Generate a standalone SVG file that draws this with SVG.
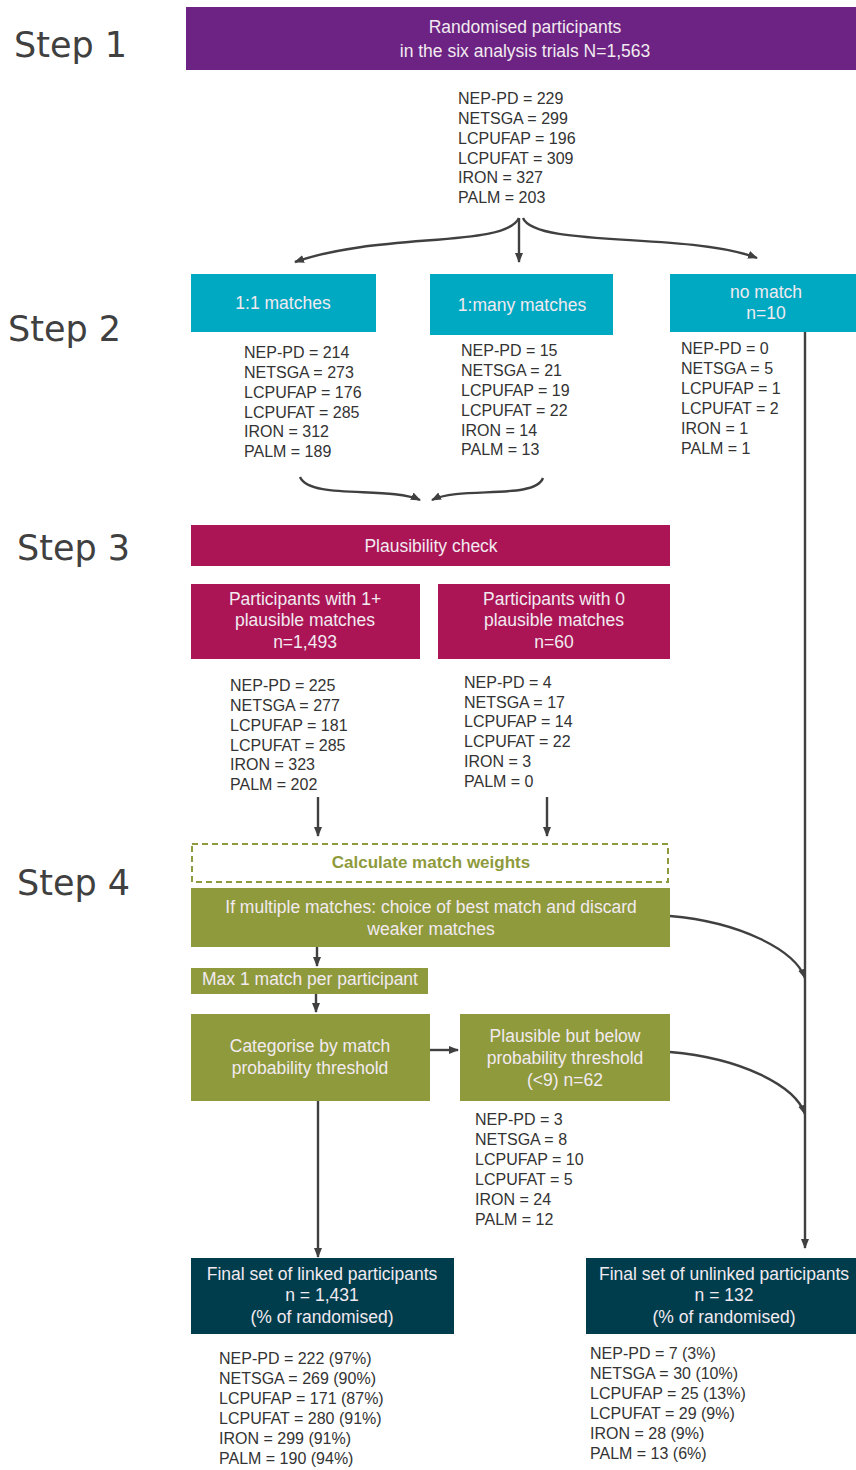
<svg xmlns="http://www.w3.org/2000/svg" width="856" height="1470" viewBox="0 0 856 1470">
<style>
.step{font-family:"DejaVu Sans","Liberation Sans",sans-serif;font-size:35px;fill:#404040}
.bt{font-family:"Liberation Sans",Arial,sans-serif;font-size:17.5px;fill:#f2eaf0;text-anchor:middle}
.ls{font-family:"Liberation Sans",Arial,sans-serif;font-size:16px;fill:#333}
.cn{fill:none;stroke:#404040;stroke-width:2.4}
</style>
<defs>
<marker id="ah" viewBox="0 0 10 10" refX="9" refY="5" markerWidth="10" markerHeight="10" orient="auto" markerUnits="userSpaceOnUse">
<path d="M0,1 L10,5 L0,9 z" fill="#404040"/>
</marker>
</defs>
<rect width="856" height="1470" fill="#fff"/>
<g id="steps">
<text class="step" x="14" y="57">Step 1</text>
<text class="step" x="8" y="341">Step 2</text>
<text class="step" x="17" y="560">Step 3</text>
<text class="step" x="17" y="895">Step 4</text>
</g>
<g id="connectors">
<path class="cn" d="M519,218 C505,248 380,232 295,262" marker-end="url(#ah)"/>
<path class="cn" d="M519,218 L519,262" marker-end="url(#ah)"/>
<path class="cn" d="M523,218 C535,248 690,232 757,258" marker-end="url(#ah)"/>
<path class="cn" d="M300,477 C310,500 390,486 420,500" marker-end="url(#ah)"/>
<path class="cn" d="M543,478 C535,500 460,486 432,500" marker-end="url(#ah)"/>
<path class="cn" d="M318,797 L318,836" marker-end="url(#ah)"/>
<path class="cn" d="M547,797 L547,836" marker-end="url(#ah)"/>
<path class="cn" d="M317,947 L317,966" marker-end="url(#ah)"/>
<path class="cn" d="M316,994 L316,1012" marker-end="url(#ah)"/>
<path class="cn" d="M430,1050 L458,1050" marker-end="url(#ah)"/>
<path class="cn" d="M318,1101 L318,1257" marker-end="url(#ah)"/>
<path class="cn" d="M805,332 L805,1248" marker-end="url(#ah)"/>
<path class="cn" d="M670,916 C740,922 795,950 805,978" marker-end="url(#ah)"/>
<path class="cn" d="M670,1052 C740,1058 795,1085 805,1114" marker-end="url(#ah)"/>
</g>
<g id="n-random">
<rect x="186" y="7" width="670" height="63" fill="#6C2383"/>
<text class="bt" x="525" y="33">Randomised participants</text>
<text class="bt" x="525" y="57">in the six analysis trials N=1,563</text>
</g>
<g id="l-random">
<text class="ls" x="458" y="104">NEP-PD = 229</text>
<text class="ls" x="458" y="124">NETSGA = 299</text>
<text class="ls" x="458" y="144">LCPUFAP = 196</text>
<text class="ls" x="458" y="164">LCPUFAT = 309</text>
<text class="ls" x="458" y="183">IRON = 327</text>
<text class="ls" x="458" y="203">PALM = 203</text>
</g>
<g id="n-11">
<rect x="191" y="274" width="185" height="58" fill="#00A9C2"/>
<text class="bt" x="283" y="309">1:1 matches</text>
</g>
<g id="n-1many">
<rect x="430" y="274" width="183" height="61" fill="#00A9C2"/>
<text class="bt" x="522" y="311">1:many matches</text>
</g>
<g id="n-nomatch">
<rect x="670" y="274" width="186" height="58" fill="#00A9C2"/>
<text class="bt" x="766" y="298">no match</text>
<text class="bt" x="766" y="319">n=10</text>
</g>
<g id="l-11">
<text class="ls" x="244" y="358">NEP-PD = 214</text>
<text class="ls" x="244" y="378">NETSGA = 273</text>
<text class="ls" x="244" y="398">LCPUFAP = 176</text>
<text class="ls" x="244" y="418">LCPUFAT = 285</text>
<text class="ls" x="244" y="437">IRON = 312</text>
<text class="ls" x="244" y="457">PALM = 189</text>
</g>
<g id="l-1many">
<text class="ls" x="461" y="356">NEP-PD = 15</text>
<text class="ls" x="461" y="376">NETSGA = 21</text>
<text class="ls" x="461" y="396">LCPUFAP = 19</text>
<text class="ls" x="461" y="416">LCPUFAT = 22</text>
<text class="ls" x="461" y="436">IRON = 14</text>
<text class="ls" x="461" y="455">PALM = 13</text>
</g>
<g id="l-nomatch">
<text class="ls" x="681" y="354">NEP-PD = 0</text>
<text class="ls" x="681" y="374">NETSGA = 5</text>
<text class="ls" x="681" y="394">LCPUFAP = 1</text>
<text class="ls" x="681" y="414">LCPUFAT = 2</text>
<text class="ls" x="681" y="434">IRON = 1</text>
<text class="ls" x="681" y="454">PALM = 1</text>
</g>
<g id="n-plaus">
<rect x="191" y="525" width="479" height="41" fill="#AB1556"/>
<text class="bt" x="431" y="552">Plausibility check</text>
</g>
<g id="n-1plus">
<rect x="191" y="584" width="229" height="75" fill="#AB1556"/>
<text class="bt" x="305" y="605">Participants with 1+</text>
<text class="bt" x="305" y="626">plausible matches</text>
<text class="bt" x="305" y="648">n=1,493</text>
</g>
<g id="n-0">
<rect x="438" y="584" width="232" height="75" fill="#AB1556"/>
<text class="bt" x="554" y="605">Participants with 0</text>
<text class="bt" x="554" y="626">plausible matches</text>
<text class="bt" x="554" y="648">n=60</text>
</g>
<g id="l-1plus">
<text class="ls" x="230" y="691">NEP-PD = 225</text>
<text class="ls" x="230" y="711">NETSGA = 277</text>
<text class="ls" x="230" y="731">LCPUFAP = 181</text>
<text class="ls" x="230" y="751">LCPUFAT = 285</text>
<text class="ls" x="230" y="770">IRON = 323</text>
<text class="ls" x="230" y="790">PALM = 202</text>
</g>
<g id="l-0">
<text class="ls" x="464" y="688">NEP-PD = 4</text>
<text class="ls" x="464" y="708">NETSGA = 17</text>
<text class="ls" x="464" y="727">LCPUFAP = 14</text>
<text class="ls" x="464" y="747">LCPUFAT = 22</text>
<text class="ls" x="464" y="767">IRON = 3</text>
<text class="ls" x="464" y="787">PALM = 0</text>
</g>
<g id="n-weights">
<rect x="192" y="844" width="476" height="38" fill="#fff" stroke="#8E9A3C" stroke-width="2" stroke-dasharray="6,4"/>
<text x="431" y="868" font-family="Liberation Sans,Arial,sans-serif" font-size="17" font-weight="bold" fill="#8E9A3C" text-anchor="middle">Calculate match weights</text>
</g>
<g id="n-multiple">
<rect x="191" y="888" width="479" height="59" fill="#8E9A3C"/>
<text class="bt" x="431" y="913">If multiple matches: choice of best match and discard</text>
<text class="bt" x="431" y="935">weaker matches</text>
</g>
<g id="n-max1">
<rect x="191" y="968" width="237" height="26" fill="#8E9A3C"/>
<text class="bt" x="310" y="985">Max 1 match per participant</text>
</g>
<g id="n-categorise">
<rect x="191" y="1014" width="239" height="87" fill="#8E9A3C"/>
<text class="bt" x="310" y="1052">Categorise by match</text>
<text class="bt" x="310" y="1074">probability threshold</text>
</g>
<g id="n-below">
<rect x="460" y="1014" width="210" height="87" fill="#8E9A3C"/>
<text class="bt" x="565" y="1042">Plausible but below</text>
<text class="bt" x="565" y="1064">probability threshold</text>
<text class="bt" x="565" y="1086">(&lt;9) n=62</text>
</g>
<g id="l-below">
<text class="ls" x="475" y="1125">NEP-PD = 3</text>
<text class="ls" x="475" y="1145">NETSGA = 8</text>
<text class="ls" x="475" y="1165">LCPUFAP = 10</text>
<text class="ls" x="475" y="1185">LCPUFAT = 5</text>
<text class="ls" x="475" y="1205">IRON = 24</text>
<text class="ls" x="475" y="1225">PALM = 12</text>
</g>
<g id="n-linked">
<rect x="191" y="1258" width="263" height="76" fill="#003D4C"/>
<text class="bt" x="322" y="1280">Final set of linked participants</text>
<text class="bt" x="322" y="1301">n = 1,431</text>
<text class="bt" x="322" y="1323">(% of randomised)</text>
</g>
<g id="n-unlinked">
<rect x="586" y="1258" width="270" height="76" fill="#003D4C"/>
<text class="bt" x="724" y="1280">Final set of unlinked participants</text>
<text class="bt" x="724" y="1301">n = 132</text>
<text class="bt" x="724" y="1323">(% of randomised)</text>
</g>
<g id="l-linked">
<text class="ls" x="219" y="1364">NEP-PD = 222 (97%)</text>
<text class="ls" x="219" y="1384">NETSGA = 269 (90%)</text>
<text class="ls" x="219" y="1404">LCPUFAP = 171 (87%)</text>
<text class="ls" x="219" y="1424">LCPUFAT = 280 (91%)</text>
<text class="ls" x="219" y="1444">IRON = 299 (91%)</text>
<text class="ls" x="219" y="1464">PALM = 190 (94%)</text>
</g>
<g id="l-unlinked">
<text class="ls" x="590" y="1359">NEP-PD = 7 (3%)</text>
<text class="ls" x="590" y="1379">NETSGA = 30 (10%)</text>
<text class="ls" x="590" y="1399">LCPUFAP = 25 (13%)</text>
<text class="ls" x="590" y="1419">LCPUFAT = 29 (9%)</text>
<text class="ls" x="590" y="1439">IRON = 28 (9%)</text>
<text class="ls" x="590" y="1459">PALM = 13 (6%)</text>
</g>
</svg>
